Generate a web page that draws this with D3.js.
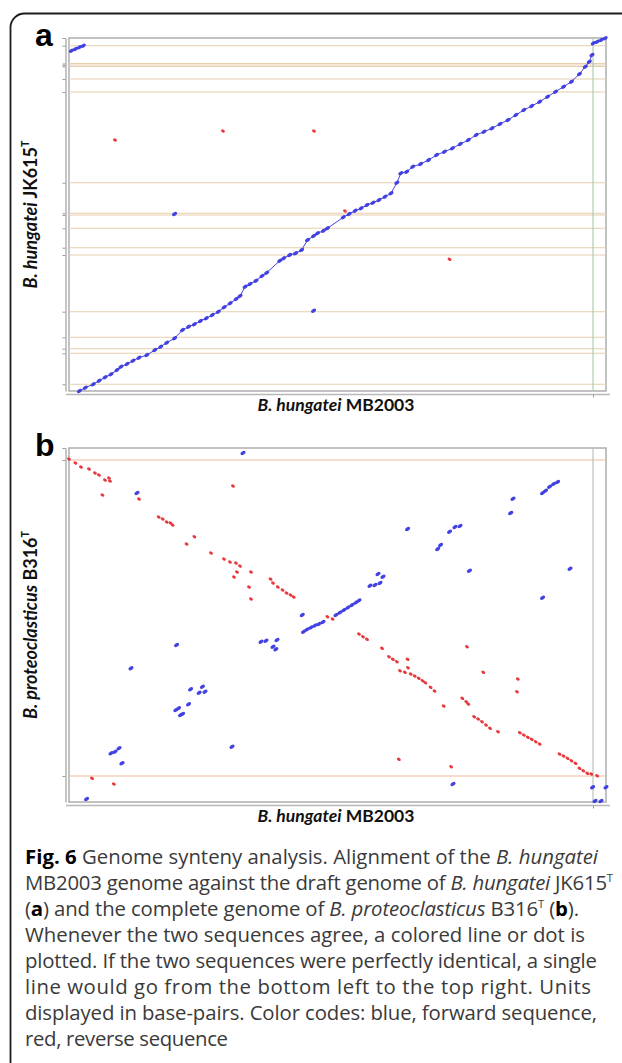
<!DOCTYPE html>
<html><head><meta charset="utf-8">
<script src="https://cdn.jsdelivr.net/npm/d3@7"></script>
<style>html,body{margin:0;padding:0;background:#fff;} svg{display:block;}</style>
</head><body><svg id="c" width="622" height="1063"></svg>
<script>
// ---------- DATA (positions in kb) ----------
const xGenomeKb = 3759;          // B. hungatei MB2003 (x axis, both panels)
const yGenomeAKb = 3530;         // B. hungatei JK615T (draft)
const yGenomeBKb = 4248;         // B. proteoclasticus B316T
const chromEndX = 3668;          // replicon boundary on x axis

// panel a: contig boundaries of the draft genome
const contigsA = [3453, 3275, 3260, 3245, 3120, 2990, 2083, 1777, 1760, 1627, 1433, 1360, 793, 537, 423, 377, 67];
// panel a: forward alignment chain (x kb, y kb)
const chainA = [[73,0],[114,33],[170,67],[211,103],[253,137],[294,167],[336,210],[364,243],[406,270],[448,303],
 [490,333],[545,360],[601,410],[642,443],[684,483],[739,527],[795,610],[837,643],[878,667],[920,700],
 [961,727],[1003,760],[1045,793],[1086,837],[1128,877],[1170,920],[1197,950],[1233,1043],[1267,1070],[1309,1103],
 [1351,1150],[1384,1183],[1476,1303],[1503,1327],[1545,1360],[1586,1377],[1628,1410],[1670,1510],[1712,1550],[1740,1577],
 [1781,1603],[1809,1627],[1920,1737],[1961,1770],[2003,1803],[2045,1827],[2086,1860],[2128,1883],[2170,1910],[2212,1943],
 [2254,1977],[2295,2083],[2323,2177],[2364,2193],[2406,2243],[2461,2270],[2517,2310],[2573,2360],[2628,2393],[2684,2427],
 [2739,2470],[2795,2510],[2850,2560],[2905,2593],[2961,2627],[3017,2670],[3073,2710],[3128,2760],[3184,2810],[3239,2850],
 [3295,2893],[3350,2943],[3406,2993],[3462,3043],[3517,3093],[3573,3170],[3614,3243],[3642,3293],[3661,3360]];
const topLeftA = [[17,3403],[45,3420],[73,3437],[100,3453]];
const topRightA = [[3670,3477],[3697,3493],[3725,3510],[3753,3527]];
const strayForwardA = [[739,1770],[1712,803]];
const reverseA = [[322,2510],[1078,2600],[1715,2600],[2664,1317],[1932,1800]];

// panel b: replicon boundaries of B316T
const contigsB = [4104, 312];
const forwardB = [[1218,4188],[476,3708],[2370,3276],[2581,3036],[2601,3084],[2664,3244],[2702,3300],[2737,3312],
 [2803,2776],[3092,3468],[3108,3640],[3315,3708],[3336,3736],[3364,3784],[3392,3816],[3420,3840],[3507,2800],[3315,2452],
 [2107,2596],[2142,2604],[2177,2628],[2163,2736],[2198,2704],
 [1642,2044],[1666,2070],[1694,2094],[1722,2118],[1750,2136],[1778,2160],[1869,2244],[1897,2274],[1925,2304],
 [1953,2334],[1981,2364],[2009,2394],[2030,2418],[1633,2244],
 [2688,216],[123,36],[3665,176],[3759,176],[3682,12],[3724,12],
 [294,584],[322,604],[350,644],[371,464],[434,1604],[753,1884],
 [748,1104],[767,1124],[781,1044],[795,1056],[837,1172],[851,1352],[911,1312],[934,1384],[952,1324],
 [1141,664],[1344,1924],[1379,1936],[1428,1864],[1448,1832],[1456,1944]];
const reverseB = [[0,4116],[45,4068],[84,4020],[140,3996],[182,3948],[210,3924],[252,3864],[280,3888],[287,3852],
 [234,3684],[490,3636],[628,3420],[656,3396],[684,3360],[711,3348],[725,3324],[823,3096],[878,3184],[994,2988],
 [1085,2916],[1127,2880],[1169,2868],[1197,2832],[1176,2760],[1155,2700],[1274,2760],[1260,2580],[1274,2436],[1148,3792],
 [1411,2676],[1428,2628],[1462,2580],[1495,2544],[1523,2508],[1551,2484],[1573,2460],[1809,2224],[1845,2196],
 [2030,2016],[2058,1984],[2086,1952],[2191,1844],[2240,1744],[2267,1712],[2295,1684],[2370,1712],[2373,1612],
 [2317,1576],[2351,1556],[2392,1536],[2420,1512],[2448,1484],[2475,1456],[2495,1432],[2531,1376],[2559,1332],
 [2623,1152],[2753,1244],[2781,1204],[2795,1176],[2786,1864],[2900,1556],[2836,1024],[2864,996],[2891,964],
 [2919,924],[2947,884],[3003,844],[3142,1476],[3136,1324],[3156,832],[3184,804],[3212,776],[3239,752],[3267,724],
 [3295,696],[2309,512],[2675,424],[3434,576],[3462,552],[3490,524],[3517,496],[3545,464],[3573,404],[3600,376],
 [3628,344],[3656,336],[3697,316],[161,284],[314,216]];

const xTitle = ["B. hungatei", " MB2003"];
const yTitleA = ["B. hungatei", " JK615", "T"];
const yTitleB = ["B. proteoclasticus", " B316", "T"];

const caption = [
 [["Fig. 6","b"],[" Genome synteny analysis. Alignment of the ",""],["B. hungatei","i"]],
 [["MB2003 genome against the draft genome of ",""],["B. hungatei","i"],[" JK615",""],["T","sup"]],
 [["(",""],["a","b"],[") and the complete genome of ",""],["B. proteoclasticus","i"],[" B316",""],["T","sup"],[" (",""],["b","b"],[").",""]],
 [["Whenever the two sequences agree, a colored line or dot is",""]],
 [["plotted. If the two sequences were perfectly identical, a single",""]],
 [["line would go from the bottom left to the top right. Units",""]],
 [["displayed in base-pairs. Color codes: blue, forward sequence,",""]],
 [["red, reverse sequence",""]]
];
const captionWidths = [573, 588, 554, 560, 572, 566, 572, 203];

// ---------- DRAWING ----------
const svg = d3.select("#c");
const BLUE = "#4242e2", RED = "#e8393c";

svg.append("rect").attr("x",10.5).attr("y",13.5).attr("width",700).attr("height",1120)
  .attr("rx",14).attr("fill","#fff").attr("stroke","#1c1c1c").attr("stroke-width",1.8);

const x = d3.scaleLinear().domain([0, xGenomeKb]).range([69, 606]);

function panel(opt){
  const y = d3.scaleLinear().domain([0, opt.yMax]).range([opt.bottom, opt.top]);
  const g = svg.append("g");
  g.append("rect").attr("x",x.range()[0]).attr("y",opt.top).attr("width",x.range()[1]-x.range()[0])
    .attr("height",opt.bottom-opt.top).attr("fill","#fff").attr("stroke","#a2a2a2").attr("stroke-width",1.3);
  g.selectAll("line.h").data(opt.contigs).join("line").attr("class","h")
    .attr("x1",x.range()[0]).attr("x2",x.range()[1]).attr("y1",d=>y(d)).attr("y2",d=>y(d))
    .attr("stroke",opt.hColor).attr("stroke-width",1.1);
  g.append("line").attr("x1",x(chromEndX)).attr("x2",x(chromEndX)).attr("y1",opt.top).attr("y2",opt.bottom)
    .attr("stroke",opt.vColor).attr("stroke-width",1.1);
  const ay = g.append("g").attr("transform","translate(65.5,0)")
    .call(d3.axisLeft(y).tickValues(opt.contigs.concat([opt.yMax])).tickSize(3).tickSizeOuter(0).tickFormat(""));
  const ax = g.append("g").attr("transform",`translate(0,${opt.bottom+3.5})`)
    .call(d3.axisBottom(x).tickValues([chromEndX]).tickSize(3).tickSizeOuter(0).tickFormat(""));
  [ay, ax].forEach(a=>{ a.select(".domain").attr("stroke","#b8b8b8").attr("stroke-width",1.6);
    a.selectAll(".tick line").attr("stroke","#9a9a9a"); });
  ax.select(".domain").attr("d",`M66,0H610`);
  if (opt.chain){
    g.append("path").datum(opt.chain).attr("fill","none").attr("stroke",BLUE).attr("stroke-width",1)
      .attr("d", d3.line().x(d=>x(d[0])).y(d=>y(d[1])));
  }
  const dots = (data, color, rot, rx, ry) => g.append("g").selectAll("ellipse").data(data).join("ellipse")
    .attr("transform", d=>`translate(${x(d[0])},${y(d[1])}) rotate(${rot})`)
    .attr("rx",rx).attr("ry",ry).attr("fill",color);
  opt.forward.forEach(s=>dots(s, BLUE, -32, 2.8, 1.8));
  opt.reverse.forEach(s=>dots(s, RED, 32, 2.1, 1.5));
  svg.append("text").attr("x",35).attr("y",opt.top+8).attr("font-family","Liberation Sans, Arial, sans-serif")
    .attr("font-weight","bold").attr("font-size",32).attr("fill","#000").text(opt.letter);
  const xt = svg.append("text").attr("x",336).attr("y",opt.bottom+20).attr("text-anchor","middle")
    .attr("font-family","Lato, sans-serif").attr("font-weight","bold").attr("font-size",17.5).attr("fill","#111");
  xt.append("tspan").attr("font-style","italic").text(xTitle[0]);
  xt.append("tspan").text(xTitle[1]);
  const yt = svg.append("text").attr("transform",`translate(37,${(opt.top+opt.bottom)/2}) rotate(-90)`)
    .attr("text-anchor","middle").attr("font-family","Lato, sans-serif").attr("font-weight","bold")
    .attr("font-size",18).attr("fill","#111");
  yt.append("tspan").attr("font-style","italic").text(opt.yTitle[0]);
  yt.append("tspan").text(opt.yTitle[1]);
  yt.append("tspan").attr("font-size","0.6em").attr("dy","-0.75em").text(opt.yTitle[2]);
}

panel({top:38, bottom:391, yMax:yGenomeAKb, contigs:contigsA, hColor:"#e6cfae", vColor:"#a9c9a9",
  chain:chainA, forward:[chainA, topLeftA, topRightA, strayForwardA], reverse:[reverseA], letter:"a", yTitle:yTitleA});
panel({top:448, bottom:802, yMax:yGenomeBKb, contigs:contigsB, hColor:"#efbc9c", vColor:"#b5bdb5",
  chain:null, forward:[forwardB], reverse:[reverseB], letter:"b", yTitle:yTitleB});

// caption
const capG = svg.append("g").attr("font-family","'Open Sans', sans-serif").attr("fill","#3a3a3a");
const baseSize = 18;
capG.attr("font-size", baseSize);
const lines = capG.selectAll("text").data(caption).join("text")
  .attr("x",25).attr("y",(d,i)=>864 + i*26);
lines.each(function(parts){
  const t = d3.select(this);
  let raised = false;
  parts.forEach(([s,st])=>{
    const ts = t.append("tspan").text(s);
    if (st==="b") ts.attr("font-weight","bold").attr("fill","#000");
    if (st==="i") ts.attr("font-style","italic");
    if (st==="sup"){ ts.attr("font-size","0.55em").attr("dy","-0.7em"); raised = true; }
    else if (raised){ ts.attr("dy","0.385em"); raised = false; }
  });
});
const w3 = lines.nodes()[3].getComputedTextLength();
capG.attr("font-size", baseSize * captionWidths[3] / w3);
lines.attr("textLength",(d,i)=>captionWidths[i]).attr("lengthAdjust","spacing");
</script></body></html>
